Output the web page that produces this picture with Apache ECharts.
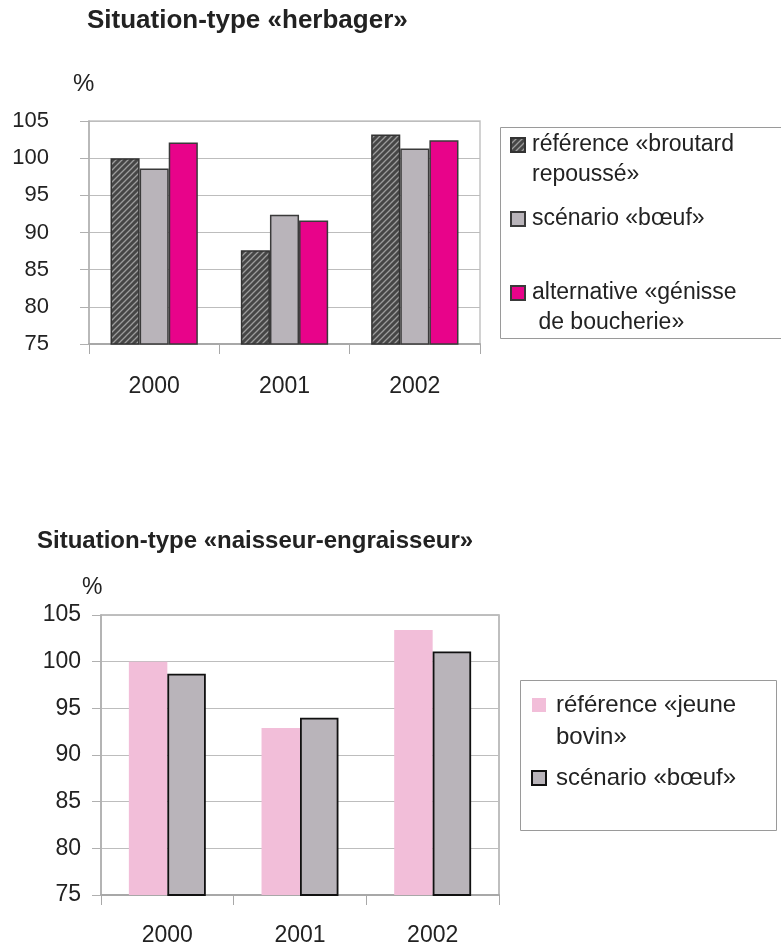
<!DOCTYPE html>
<html><head><meta charset="utf-8">
<script src="https://cdn.jsdelivr.net/npm/echarts@6/dist/echarts.min.js"></script>
<style>html,body{margin:0;padding:0;background:#fff}#c{width:781px;height:947px}</style>
</head><body><div id="c"></div>
<script>
// ---- data ----
const years = ['2000', '2001', '2002'];
const topTitle = 'Situation-type «herbager»';
const bottomTitle = 'Situation-type «naisseur-engraisseur»';
const unitLabel = '%';
const topNames = ['référence «broutard\nrepoussé»', 'scénario «bœuf»', 'alternative «génisse\n de boucherie»'];
const topReference = [100.0, 87.6, 103.2];
const topScenario = [98.6, 92.4, 101.3];
const topAlternative = [102.1, 91.6, 102.4];
const bottomNames = ['référence «jeune\nbovin»', 'scénario «bœuf» '];
const bottomReference = [100.0, 92.9, 103.4];
const bottomScenario = [98.7, 94.0, 101.1];
const yMin = 75, yMax = 105, yStep = 5;

// ---- styles ----
const FF = '"Liberation Sans", Arial, sans-serif';
function hatch() {
  const c = document.createElement('canvas');
  c.width = c.height = 6;
  const g = c.getContext('2d');
  g.fillStyle = '#464646'; g.fillRect(0, 0, 6, 6);
  g.strokeStyle = '#9c9c9c'; g.lineWidth = 1.3;
  g.beginPath();
  g.moveTo(-1, 7); g.lineTo(7, -1);
  g.moveTo(-1, 1); g.lineTo(1, -1);
  g.moveTo(5, 7); g.lineTo(7, 5);
  g.stroke();
  return c;
}
const hatchFill = { image: hatch(), repeat: 'repeat' };
const GREY = '#b9b4ba', MAGENTA = '#e8038a', PINK = '#f2bed9';

function xAxisOf(gi, fs, margin) {
  return {
    type: 'category', gridIndex: gi, data: years,
    axisLine: { lineStyle: { color: '#a8a8a8', width: 2 } },
    axisTick: { show: true, length: 10, lineStyle: { color: '#a8a8a8' } },
    axisLabel: { fontFamily: FF, fontSize: fs, color: '#222', margin: margin }
  };
}
function yAxisOf(gi, fs, margin) {
  return {
    type: 'value', gridIndex: gi, min: yMin, max: yMax, interval: yStep,
    axisLine: { show: true, lineStyle: { color: '#b0b0b0', width: 1.5 } },
    axisTick: { show: true, length: 9, lineStyle: { color: '#b0b0b0' } },
    splitLine: { lineStyle: { color: '#bdbdbd', width: 1 } },
    axisLabel: { fontFamily: FF, fontSize: fs, color: '#222', margin: margin }
  };
}
// multi-line legend entries: align icon with the first line
const legendFormatter = name => (name.indexOf('\n') >= 0 ? '\n' + name : name);

const chart = echarts.init(document.getElementById('c'), null, { renderer: 'canvas' });
chart.setOption({
  animation: false,
  backgroundColor: '#fff',
  graphic: [
    { type: 'text', left: 87, top: 8, style: { text: topTitle, font: 'bold 26px ' + FF, fill: '#222' } },
    { type: 'text', left: 73, top: 72, style: { text: unitLabel, font: '24px ' + FF, fill: '#222' } },
    { type: 'rect', shape: { x: 500.5, y: 127.5, width: 300, height: 211 }, style: { fill: 'none', stroke: '#9a9a9a', lineWidth: 1 }, z: -1 },
    { type: 'text', left: 37, top: 529, style: { text: bottomTitle, font: 'bold 24px ' + FF, fill: '#222' } },
    { type: 'text', left: 82, top: 576, style: { text: unitLabel, font: '23px ' + FF, fill: '#222' } },
    { type: 'rect', shape: { x: 520.5, y: 680.5, width: 256, height: 150 }, style: { fill: 'none', stroke: '#9a9a9a', lineWidth: 1 }, z: -1 }
  ],
  grid: [
    { left: 89, top: 121, width: 391, height: 223, show: true, borderColor: '#c4c4c4', borderWidth: 1.5 },
    { left: 101, top: 615, width: 398, height: 282, show: true, borderColor: '#aaaaaa', borderWidth: 1.5 }
  ],
  xAxis: [xAxisOf(0, 23, 31), xAxisOf(1, 23, 29)],
  yAxis: [yAxisOf(0, 22, 40), yAxisOf(1, 23, 20)],
  legend: [
    {
      orient: 'vertical', left: 510, top: 100, padding: 0, itemGap: 14,
      itemWidth: 14, itemHeight: 14, icon: 'rect',
      formatter: legendFormatter,
      textStyle: { fontFamily: FF, fontSize: 23, lineHeight: 30, color: '#222', padding: [0, 0, 0, 2] },
      data: topNames
    },
    {
      orient: 'vertical', left: 531, top: 657, padding: 0, itemGap: 9,
      itemWidth: 14, itemHeight: 14, icon: 'rect',
      formatter: legendFormatter,
      textStyle: { fontFamily: FF, fontSize: 24, lineHeight: 32, color: '#222', padding: [0, 0, 0, 5] },
      data: bottomNames
    }
  ],
  series: [
    { name: topNames[0], type: 'bar', xAxisIndex: 0, yAxisIndex: 0, data: topReference,
      barGap: '0%', barCategoryGap: '33%',
      itemStyle: { color: hatchFill, borderColor: '#333', borderWidth: 1.5 } },
    { name: topNames[1], type: 'bar', xAxisIndex: 0, yAxisIndex: 0, data: topScenario,
      barGap: '0%', barCategoryGap: '33%',
      itemStyle: { color: GREY, borderColor: '#3a3a3a', borderWidth: 1.5 } },
    { name: topNames[2], type: 'bar', xAxisIndex: 0, yAxisIndex: 0, data: topAlternative,
      barGap: '0%', barCategoryGap: '33%',
      itemStyle: { color: MAGENTA, borderColor: '#3a3a3a', borderWidth: 1.5 } },
    { name: bottomNames[0], type: 'bar', xAxisIndex: 1, yAxisIndex: 1, data: bottomReference,
      barGap: '0%', barCategoryGap: '42%',
      itemStyle: { color: PINK, borderWidth: 0 } },
    { name: bottomNames[1], type: 'bar', xAxisIndex: 1, yAxisIndex: 1, data: bottomScenario,
      barGap: '0%', barCategoryGap: '42%',
      itemStyle: { color: GREY, borderColor: '#111', borderWidth: 1.8 } }
  ]
});
</script>
</body></html>
